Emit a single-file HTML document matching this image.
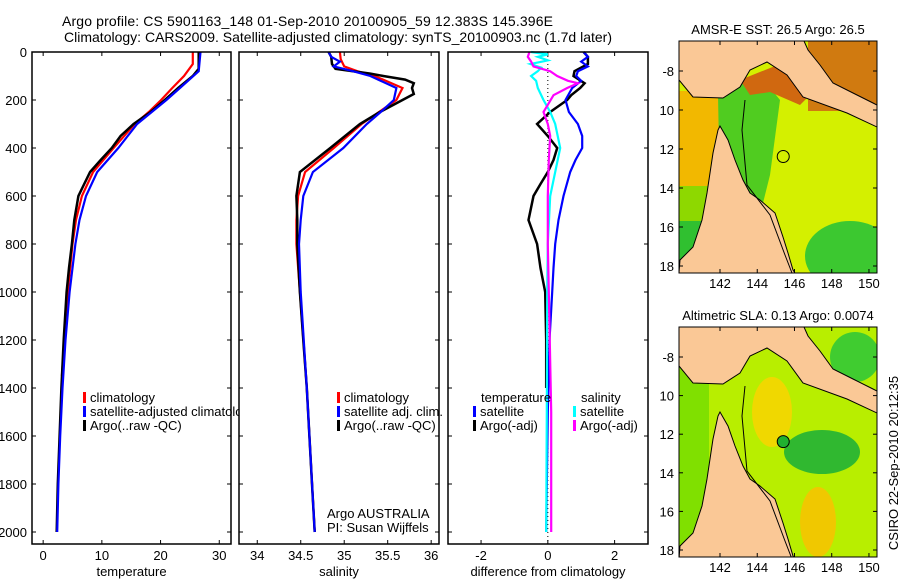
<!DOCTYPE html>
<html><head><meta charset="utf-8">
<style>
html,body{margin:0;padding:0;background:#fff;}
svg{display:block;font-family:"Liberation Sans","DejaVu Sans",sans-serif;}
text{font-size:13px;fill:#000;}
</style></head>
<body>
<svg id="fig" width="900" height="580" viewBox="0 0 900 580" xmlns="http://www.w3.org/2000/svg">
<rect x="0" y="0" width="900" height="580" fill="#fff"/>
<text x="62" y="26" font-size="14" style="font-size:14px" textLength="491">Argo profile: CS 5901163_148 01-Sep-2010 20100905_59 12.383S 145.396E</text>
<text x="64" y="42" font-size="14" style="font-size:14px" textLength="548">Climatology: CARS2009. Satellite-adjusted climatology: synTS_20100903.nc (1.7d later)</text>
<g id="panels"></g>
<g id="maps"></g>
<text transform="translate(898,463) rotate(-90)" text-anchor="middle">CSIRO 22-Sep-2010 20:12:35</text>
</svg>
<script>
// ---- data (depth in m, values) ----
const depthTicks = [0,200,400,600,800,1000,1200,1400,1600,1800,2000];
const tempTicks = [0,10,20,30];
const salTicks = [34,34.5,35,35.5,36];
const salTickLabels = ["34","34.5","35","35.5","36"];
const diffTicks = [-2,0,2];

const tempArgoD = [0,70,100,150,200,250,300,350,400,450,500,550,600,700,800,900,1000,1200,1400,1600,1800,2000];
const tempArgoV = [26.5,26.5,25.5,23,20.7,18.3,15.4,13.2,11.7,9.8,8.0,7.0,6.0,5.3,4.9,4.4,4.0,3.5,3.1,2.8,2.5,2.3];
const tempClimD = [0,50,100,150,200,250,300,400,500,600,700,800,1000,1200,1350];
const tempClimV = [25.5,25.5,24,22,20.1,18,15.6,12.0,8.5,6.6,5.6,5.0,4.2,3.6,3.2];
const tempSatD = [0,80,150,200,300,400,500,600,700,800,1000,1200,1400,1600,1800,2000];
const tempSatV = [26.8,26.5,23.3,21,16,12.8,9.2,7.3,6.2,5.5,4.5,3.8,3.3,2.9,2.6,2.4];

const salArgoD = [0,20,50,70,90,100,115,130,150,175,200,250,300,400,500,600,700,800,1000,1200,1400,1600,1800,2000];
const salArgoV = [34.82,34.85,34.86,34.9,35.3,35.45,35.7,35.8,35.78,35.8,35.67,35.41,35.18,34.84,34.49,34.45,34.46,34.46,34.49,34.53,34.57,34.6,34.63,34.66];
const salClimD = [0,30,60,80,100,150,200,250,300,400,500,600,700,800,1000,1400,2000];
const salClimV = [34.95,34.96,35.0,35.15,35.35,35.67,35.6,35.4,35.2,34.88,34.55,34.47,34.45,34.45,34.49,34.57,34.66];
const salSatD = [0,20,40,60,80,100,150,200,250,300,400,500,600,700,800,1000,1400,2000];
const salSatV = [34.82,34.85,34.95,34.88,35.1,35.3,35.6,35.57,35.42,35.26,34.99,34.64,34.53,34.5,34.48,34.5,34.57,34.66];

const dTempSatD = [0,20,40,60,80,100,120,150,200,250,300,350,400,450,500,600,700,800,900,1000,1200,1500,2000];
const dTempSatV = [1.07,1.2,1.0,1.2,0.9,0.85,1.0,0.73,0.53,0.63,0.9,1.03,1.03,0.83,0.67,0.47,0.32,0.22,0.17,0.13,0.05,0.0,-0.05];
const dTempArgoD = [0,20,50,80,100,130,150,180,200,250,300,350,400,450,500,550,600,700,800,900,1000,1200,1400];
const dTempArgoV = [1.07,1.2,1.2,0.8,0.77,1.1,0.97,0.7,0.58,0.07,-0.32,0.0,0.28,0.17,0.0,-0.22,-0.43,-0.58,-0.32,-0.22,-0.08,-0.05,-0.05];
const dSalSatD = [0,10,20,35,50,65,80,100,120,150,200,250,300,400,500,600,800,1000,1500,2000];
const dSalSatV = [-0.5,0.0,-0.3,0.0,-0.52,-0.2,-0.3,-0.5,-0.35,-0.3,-0.13,0.07,0.22,0.37,0.22,0.07,0.0,-0.02,-0.03,-0.05];
const dSalArgoD = [0,20,40,60,80,100,120,130,150,180,220,250,300,350,450,600,800,1000,1500,2000];
const dSalArgoV = [-0.55,-0.6,-0.5,-0.43,0.07,0.28,0.6,0.9,0.58,0.17,0.0,-0.13,0.0,0.07,0.03,0.0,0.0,0.03,0.1,0.1];

const lonTicks = [142,144,146,148,150];
const latTicks = [-8,-10,-12,-14,-16,-18];
const latTickLabels = ["-8","10","12","14","16","18"];
const sstValue = "26.5", sstArgo = "26.5", slaValue = "0.13", slaArgo = "0.0074";
const floatLon = 145.396, floatLat = -12.383;

const NS = "http://www.w3.org/2000/svg";
function el(tag, attrs, parent, txt){
  const e = document.createElementNS(NS, tag);
  for (const k in attrs) e.setAttribute(k, attrs[k]);
  if (txt !== undefined) e.textContent = txt;
  parent.appendChild(e);
  return e;
}
const TOP = 52, BOT = 544, D0 = 0, D1 = 2000, DY0 = 52, DY1 = 532;
const yD = d => DY0 + (d - D0) / (D1 - D0) * (DY1 - DY0);
const panels = document.getElementById('panels');

function makePanel(name, x0, x1, vmin, vmax, ticks, tickLabels, xlabel, showY){
  const g = el('g', {}, panels);
  
  
  const xs = v => x0 + (v - vmin) / (vmax - vmin) * (x1 - x0);
  el('rect', {x:x0, y:TOP, width:x1-x0, height:BOT-TOP, fill:'#fff'}, g);
  ticks.forEach((t,i) => {
    const x = xs(t);
    el('line', {x1:x, x2:x, y1:TOP, y2:TOP+4, stroke:'#000'}, g);
    el('line', {x1:x, x2:x, y1:BOT, y2:BOT-4, stroke:'#000'}, g);
    const tl = el('text', {x:x, y:560, 'text-anchor':'middle'}, g, tickLabels[i]);
    
    
  });
  depthTicks.forEach(d => {
    const y = yD(d);
    el('line', {x1:x0, x2:x0+4, y1:y, y2:y, stroke:'#000'}, g);
    el('line', {x1:x1, x2:x1-4, y1:y, y2:y, stroke:'#000'}, g);
    if (showY){
      const tl = el('text', {x:x0-5, y:y+5, 'text-anchor':'end'}, g, String(d));
      
      
    }
  });
  const xt = el('text', {x:(x0+x1)/2, y:576, 'text-anchor':'middle'}, g, xlabel);
  
  
  return {g, xs, x0, x1};
}
function series(p, D, V, color, w, name){
  let s = '';
  D.forEach((d,i) => { s += (i ? 'L' : 'M') + p.xs(V[i]).toFixed(1) + ',' + yD(d).toFixed(1); });
  const path = el('path', {d:s, fill:'none', stroke:color, 'stroke-width':w, 'stroke-linejoin':'miter'}, p.g);
  
  
}
function frame(p){ el('rect', {x:p.x0, y:TOP, width:p.x1-p.x0, height:BOT-TOP, fill:'none', stroke:'#000', 'stroke-width':1.5}, p.g); }
function legend(p, x, y, color, label, name){
  el('rect', {x:x, y:y-10, width:3, height:11, fill:color}, p.g);
  const t = el('text', {x:x+7, y:y}, p.g, label);
  
  
}

// Panel 1 temperature
const p1 = makePanel('temperature', 32, 231, -1.9, 32.0, tempTicks, tempTicks.map(String), 'temperature', true);
series(p1, tempClimD, tempClimV, '#ff0000', 2.2, 'temp-climatology-line');
series(p1, tempArgoD, tempArgoV, '#000000', 2.5, 'temp-argo-line');
series(p1, tempSatD, tempSatV, '#0000ff', 2.2, 'temp-satellite-line');
legend(p1, 83, 402, '#ff0000', 'climatology', 'legend-climatology');
legend(p1, 83, 416, '#0000ff', 'satellite-adjusted climatology', 'legend-satellite-adjusted');
legend(p1, 83, 430, '#000000', 'Argo(..raw -QC)', 'legend-argo');
frame(p1);

// Panel 2 salinity
const p2 = makePanel('salinity', 239, 439, 33.79, 36.09, salTicks, salTickLabels, 'salinity', false);
series(p2, salClimD, salClimV, '#ff0000', 2.2, 'sal-climatology-line');
series(p2, salArgoD, salArgoV, '#000000', 2.5, 'sal-argo-line');
series(p2, salSatD, salSatV, '#0000ff', 2.2, 'sal-satellite-line');
legend(p2, 337, 402, '#ff0000', 'climatology', 'legend-climatology');
legend(p2, 337, 416, '#0000ff', 'satellite adj. clim.', 'legend-satellite-adj');
legend(p2, 337, 430, '#000000', 'Argo(..raw -QC)', 'legend-argo');
const ct1 = el('text', {x:327, y:518}, p2.g, 'Argo AUSTRALIA');
 
const ct2 = el('text', {x:327, y:532}, p2.g, 'PI: Susan Wijffels');
 
frame(p2);

// Panel 3 differences
const p3 = makePanel('difference', 448, 648, -2.99, 3.0, diffTicks, diffTicks.map(String), 'difference from climatology', false);
el('line', {x1:p3.xs(0), x2:p3.xs(0), y1:TOP, y2:BOT, stroke:'#000', 'stroke-dasharray':'1,3'}, p3.g);
series(p3, dTempArgoD, dTempArgoV, '#000000', 2.5, 'diff-temp-argo-line');
series(p3, dTempSatD, dTempSatV, '#0000ff', 2.2, 'diff-temp-satellite-line');
series(p3, dSalSatD, dSalSatV, '#00ffff', 2.2, 'diff-sal-satellite-line');
series(p3, dSalArgoD, dSalArgoV, '#ff00ff', 2.2, 'diff-sal-argo-line');
const lt = el('text', {x:481, y:402}, p3.g, 'temperature');
 
const ls = el('text', {x:581, y:402}, p3.g, 'salinity');
 
legend(p3, 473, 416, '#0000ff', 'satellite', 'legend-temp-satellite');
legend(p3, 473, 430, '#000000', 'Argo(-adj)', 'legend-temp-argo');
legend(p3, 573, 416, '#00ffff', 'satellite', 'legend-sal-satellite');
legend(p3, 573, 430, '#ff00ff', 'Argo(-adj)', 'legend-sal-argo');
frame(p3);

// ---- Maps ----
const maps = document.getElementById('maps');
const landPts = [[679,41],[804,41],[808,50],[820,65],[833,83],[853,93],[873,103],[877,105],[877,127],[847,113],[803,97],[787,75],[767,62],[750,70],[740,87],[723,98],[693,97],[679,80]];
const capePts = [[720,126],[718,130],[713,153],[707,193],[702,220],[693,247],[680,260],[679,273],[795,273],[793,270],[788,253],[783,237],[775,213],[760,200],[750,193],[743,180],[735,160],[728,140]];
function map(name, top, bottom, title, isSST){
  const L = 679, R = 877;
  const dy = top - 41;
  const g = el('g', {}, maps);
  
  
  const lonX = lon => 720 + (lon - 142) * 18.62;
  const latY = lat => top + 30 + (-lat - 8) * (bottom - top - 37) / 10;
  const clipId = name + '-clip';
  const cp = el('clipPath', {id:clipId}, g);
  el('rect', {x:L, y:top, width:R-L, height:bottom-top}, cp);
  const inner = el('g', {'clip-path':'url(#' + clipId + ')'}, g);
  const sh = pts => pts.map(p => p[0] + ',' + (p[1] + dy)).join(' ');
  if (isSST){
    el('rect', {x:L, y:top, width:R-L, height:bottom-top, fill:'#d4f000'}, inner);
    el('rect', {x:L, y:top+50, width:45, height:110, fill:'#f2b800'}, inner);
    el('rect', {x:L, y:top+145, width:30, height:90, fill:'#8ed800'}, inner);
    el('rect', {x:L, y:top+180, width:25, height:60, fill:'#30c030'}, inner);
    el('polygon', {points:'718,95 760,75 780,100 770,175 760,215 790,273 745,273 720,200', fill:'#50cc20'}, inner);
    el('polygon', {points:'740,80 790,60 810,95 800,105 770,92 750,95', fill:'#d06810'}, inner);
    el('rect', {x:808, y:top, width:70, height:70, fill:'#d07a10'}, inner);
    el('ellipse', {cx:850, cy:top+215, rx:45, ry:35, fill:'#3cc830'}, inner);
  } else {
    el('rect', {x:L, y:top, width:R-L, height:bottom-top, fill:'#b8ee00'}, inner);
    el('rect', {x:L, y:top+40, width:30, height:190, fill:'#80e000'}, inner);
    el('ellipse', {cx:772, cy:top+85, rx:20, ry:35, fill:'#f0d800'}, inner);
    el('ellipse', {cx:822, cy:top+125, rx:38, ry:22, fill:'#30b830'}, inner);
    el('ellipse', {cx:818, cy:top+195, rx:18, ry:35, fill:'#f0c800'}, inner);
    el('ellipse', {cx:855, cy:top+30, rx:25, ry:25, fill:'#40cc30'}, inner);
  }
  el('polygon', {points:sh(landPts), fill:'#fac896', stroke:'#000', 'stroke-width':1}, inner);
  el('polygon', {points:sh(capePts), fill:'#fac896', stroke:'#000', 'stroke-width':1}, inner);
  el('polyline', {points:sh([[745,100],[742,130],[747,185],[770,215],[785,255],[792,273]]), fill:'none', stroke:'#000', 'stroke-width':1}, inner);
  const cx = lonX(floatLon), cy = latY(floatLat);
  const mk = el('circle', {cx:cx, cy:cy, r:6, fill:isSST ? 'none' : '#20b030', stroke:'#000', 'stroke-width':1}, inner);
  
  
  el('rect', {x:L, y:top, width:R-L, height:bottom-top, fill:'none', stroke:'#000', 'stroke-width':1}, g);
  lonTicks.forEach(lon => {
    const x = lonX(lon);
    el('line', {x1:x, x2:x, y1:top, y2:top+4, stroke:'#000'}, g);
    el('line', {x1:x, x2:x, y1:bottom, y2:bottom-4, stroke:'#000'}, g);
    const t = el('text', {x:x, y:bottom+15, 'text-anchor':'middle'}, g, String(lon));
    
    
  });
  latTicks.forEach((lat,i) => {
    const y = latY(lat);
    el('line', {x1:L, x2:L+4, y1:y, y2:y, stroke:'#000'}, g);
    el('line', {x1:R, x2:R-4, y1:y, y2:y, stroke:'#000'}, g);
    const t = el('text', {x:L-5, y:y+5, 'text-anchor':'end'}, g, latTickLabels[i]);
    
    
  });
  const tt = el('text', {x:(L+R)/2, y:top-7, 'text-anchor':'middle'}, g, title);
  
  
}
map('sst-map', 41, 273, 'AMSR-E SST: ' + sstValue + ' Argo: ' + sstArgo, true);
map('sla-map', 327, 557, 'Altimetric SLA: ' + slaValue + ' Argo: ' + slaArgo, false);
</script>
</body></html>
